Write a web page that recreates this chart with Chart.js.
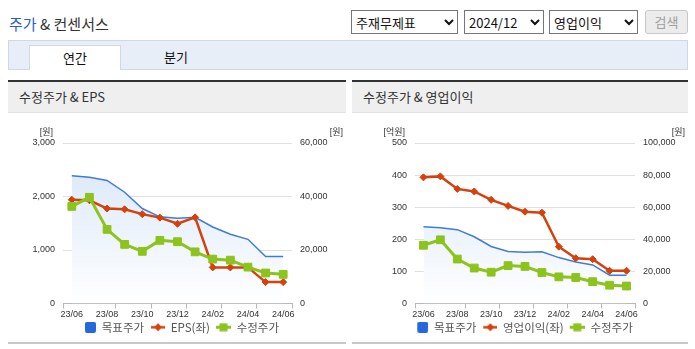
<!DOCTYPE html>
<html><head><meta charset="utf-8">
<script src="https://cdn.jsdelivr.net/npm/chart.js@4.4.1/dist/chart.umd.min.js"></script>
<style>
body{margin:0;background:#fff;font-family:"Noto Sans CJK KR","Noto Sans",sans-serif;}
#wrap{position:relative;width:695px;height:349px;overflow:hidden;background:#fff;}
.a{position:absolute;}
.title{left:9px;top:13px;font-size:15px;color:#333;line-height:22px;white-space:nowrap;}
.title span{color:#2a5fc8;}
select{position:absolute;top:10px;height:24px;font-size:13px;font-family:"Noto Sans CJK KR",sans-serif;color:#111;background:#fff;}
.btn{left:645px;top:10px;width:41px;height:22px;border:1px solid #c8c8c8;border-radius:3px;background:#ececec;color:#a0a0a0;font-size:13px;line-height:22px;text-align:center;}
.tabbar{left:8px;top:40px;width:678px;height:28px;background:#e8eef8;border:1px solid #cfd8e6;}
.tab{left:29px;top:45px;width:90px;height:24px;background:#fff;border:1px solid #cfd8e6;border-bottom:none;text-align:center;line-height:24px;font-size:13px;color:#111;}
.tab2{left:146px;top:45px;width:60px;height:24px;text-align:center;line-height:24px;font-size:13px;color:#111;}
.phead{top:80px;height:30px;background:#efefef;border-top:2px solid #333;border-bottom:1px solid #e2e2e2;font-size:13px;color:#333;line-height:30px;padding-left:11px;box-sizing:content-box;}
.pline{top:342px;height:2px;background:#c8c8c8;}
canvas{position:absolute;top:115px;}
</style></head>
<body><div id="wrap">
<div class="a title"><span>주가</span> &amp; 컨센서스</div>
<select style="left:351px;width:107px;"><option>주재무제표</option></select>
<select style="left:464px;width:80px;"><option>2024/12</option></select>
<select style="left:549px;width:89px;"><option>영업이익</option></select>
<div class="a btn">검색</div>
<div class="a tabbar"></div>
<div class="a tab">연간</div>
<div class="a tab2">분기</div>
<div class="a phead" style="left:8px;width:327px;">수정주가 &amp; EPS</div>
<div class="a phead" style="left:352px;width:325px;">수정주가 &amp; 영업이익</div>
<div class="a pline" style="left:8px;width:338px;"></div>
<div class="a pline" style="left:352px;width:336px;"></div>
<canvas id="c1" width="338" height="228" style="left:8px;"></canvas>
<canvas id="c2" width="336" height="228" style="left:352px;"></canvas>
</div>
<script>
// ---- data ----
const months = ['23/06','23/07','23/08','23/09','23/10','23/11','23/12','24/01','24/02','24/03','24/04','24/05','24/06'];
const targetPrice = [47800, 47200, 46000, 41600, 35500, 32400, 31900, 32200, 28600, 25900, 24000, 17600, 17600];
const adjPrice    = [36300, 39700, 27700, 22100, 19500, 23600, 23100, 19300, 16600, 16200, 13600, 11400, 10900];
const eps         = [1940, 1930, 1775, 1760, 1670, 1605, 1490, 1610, 675, 675, 675, 400, 400];
const opProfit    = [393, 396, 357, 349, 323, 304, 286, 283, 177, 141, 138, 102, 102];
const epsTicks    = [0, 1000, 2000, 3000];
const priceTicks1 = [0, 20000, 40000, 60000];
const opTicks     = [0, 100, 200, 300, 400, 500];
const priceTicks2 = [0, 20000, 40000, 60000, 80000, 100000];
const seriesNames1 = ['목표주가', 'EPS(좌)', '수정주가'];
const seriesNames2 = ['목표주가', '영업이익(좌)', '수정주가'];

const BLUE = '#3f7bd9', RED = '#d4410c', GREEN = '#8cc31c';
const tickFont = {family: '"Liberation Sans", Arial, sans-serif', size: 9};
const LW = 21; // legend symbol slot width

function icon(w, h, draw){ const c = document.createElement('canvas'); c.width = w; c.height = h; draw(c.getContext('2d')); return c; }
const icons = [
  icon(LW, 11, g => { g.fillStyle = '#2468dc'; g.beginPath(); g.roundRect(LW - 11, 0, 11, 11, 2); g.fill(); }),
  icon(LW, 9, g => { const x0 = LW - 14; g.strokeStyle = RED; g.lineWidth = 2.5; g.beginPath(); g.moveTo(x0, 4.5); g.lineTo(LW, 4.5); g.stroke();
    g.fillStyle = RED; g.beginPath(); g.moveTo(x0 + 3, 4.5); g.lineTo(x0 + 7, 0.5); g.lineTo(x0 + 11, 4.5); g.lineTo(x0 + 7, 8.5); g.closePath(); g.fill(); }),
  icon(LW, 9, g => { const x0 = LW - 15; g.strokeStyle = GREEN; g.lineWidth = 3; g.beginPath(); g.moveTo(x0, 4.5); g.lineTo(LW, 4.5); g.stroke();
    g.fillStyle = GREEN; g.fillRect(x0 + 3.5, 0.5, 8, 8); })
];

const unitPlugin = {
  id: 'units',
  afterDraw(chart, args, opts){
    const {ctx, chartArea} = chart;
    ctx.save();
    ctx.font = '9px "Liberation Sans", "Noto Sans CJK KR", sans-serif';
    ctx.fillStyle = '#333';
    ctx.textBaseline = 'middle';
    ctx.textAlign = 'right';
    ctx.fillText(opts.left, chartArea.left - 10, chartArea.top - 10);
    ctx.fillText(opts.right, chart.width - 3, chartArea.top - 10);
    ctx.restore();
  }
};

function fmt(v){ return Number(v).toLocaleString('en-US'); }

function makeChart(id, names, leftData, leftTicks, rightTicks, leftUnit, leftW, rightW){
  const ctx = document.getElementById(id);
  const markIdx = [0, 3, 5, 7, 9, 11];
  return new Chart(ctx, {
    type: 'line',
    data: {
      labels: months,
      datasets: [
        { label: names[0], data: targetPrice, yAxisID: 'yR', order: 3,
          borderColor: BLUE, borderWidth: 1.5, pointRadius: 0, pointHoverRadius: 0,
          fill: 'origin',
          backgroundColor: c => { const a = c.chart.chartArea; if (!a) return 'rgba(218,232,250,0.7)';
            const g = c.chart.ctx.createLinearGradient(0, a.top, 0, a.bottom);
            g.addColorStop(0, '#d6e5f9'); g.addColorStop(1, '#ffffff'); return g; } },
        { label: names[1], data: leftData, yAxisID: 'yL', order: 2,
          borderColor: RED, borderWidth: 2.5, pointStyle: 'rectRot', pointRadius: 3.5,
          pointBackgroundColor: RED, pointBorderColor: RED, pointBorderWidth: 1, fill: false },
        { label: names[2], data: adjPrice, yAxisID: 'yR', order: 1,
          borderColor: GREEN, borderWidth: 3, pointStyle: 'rect', pointRadius: 5.5,
          pointBackgroundColor: GREEN, pointBorderColor: GREEN, pointBorderWidth: 1, fill: false }
      ]
    },
    options: {
      responsive: false, animation: false, devicePixelRatio: 1,
      layout: { padding: { top: 28, left: 0, right: 0, bottom: 0 } },
      plugins: {
        units: { left: leftUnit, right: '[원]' },
        tooltip: { enabled: false },
        legend: {
          position: 'bottom',
          labels: {
            usePointStyle: true, pointStyleWidth: LW, padding: 0, color: '#555',
            font: { family: '"Noto Sans CJK KR", sans-serif', size: 11.5 },
            generateLabels(chart){
              const items = Chart.defaults.plugins.legend.labels.generateLabels(chart);
              items.sort((a, b) => a.datasetIndex - b.datasetIndex);
              items.forEach(it => { it.pointStyle = icons[it.datasetIndex]; it.fontColor = '#555'; });
              return items;
            }
          }
        }
      },
      scales: {
        x: {
          offset: true,
          grid: { offset: true, drawOnChartArea: false, drawTicks: true, tickLength: 5,
            color: c => (c.index === undefined || markIdx.includes(c.index)) ? '#b8b8b8' : 'rgba(0,0,0,0)' },
          border: { display: true, color: '#b8b8b8', width: 1 },
          ticks: { autoSkip: false, maxRotation: 0, padding: 1, color: '#333', font: tickFont,
            callback: (v, i) => i % 2 === 0 ? months[i] : '' },
          afterFit: s => { s.height = 18; s.paddingLeft = 0; s.paddingRight = 0; }
        },
        yL: {
          position: 'left', min: leftTicks[0], max: leftTicks[leftTicks.length - 1],
          afterBuildTicks: s => { s.ticks = leftTicks.map(v => ({value: v})); },
          grid: { drawTicks: false, color: c => c.tick && c.tick.value === 0 ? 'rgba(0,0,0,0)' : '#e0e0e0' },
          border: { display: false },
          ticks: { padding: 8, color: '#333', font: tickFont, callback: v => fmt(v) },
          afterFit: s => { s.width = leftW; s.paddingTop = 0; s.paddingBottom = 0; }
        },
        yR: {
          position: 'right', min: rightTicks[0], max: rightTicks[rightTicks.length - 1],
          afterBuildTicks: s => { s.ticks = rightTicks.map(v => ({value: v})); },
          grid: { display: false, drawTicks: false },
          border: { display: false },
          ticks: { padding: 8, color: '#333', font: tickFont, callback: v => fmt(v) },
          afterFit: s => { s.width = rightW; s.paddingTop = 0; s.paddingBottom = 0; }
        }
      }
    },
    plugins: [unitPlugin]
  });
}

makeChart('c1', seriesNames1, eps, epsTicks, priceTicks1, '[원]', 55, 54);
makeChart('c2', seriesNames2, opProfit, opTicks, priceTicks2, '[억원]', 63, 53);
</script>
</body></html>
